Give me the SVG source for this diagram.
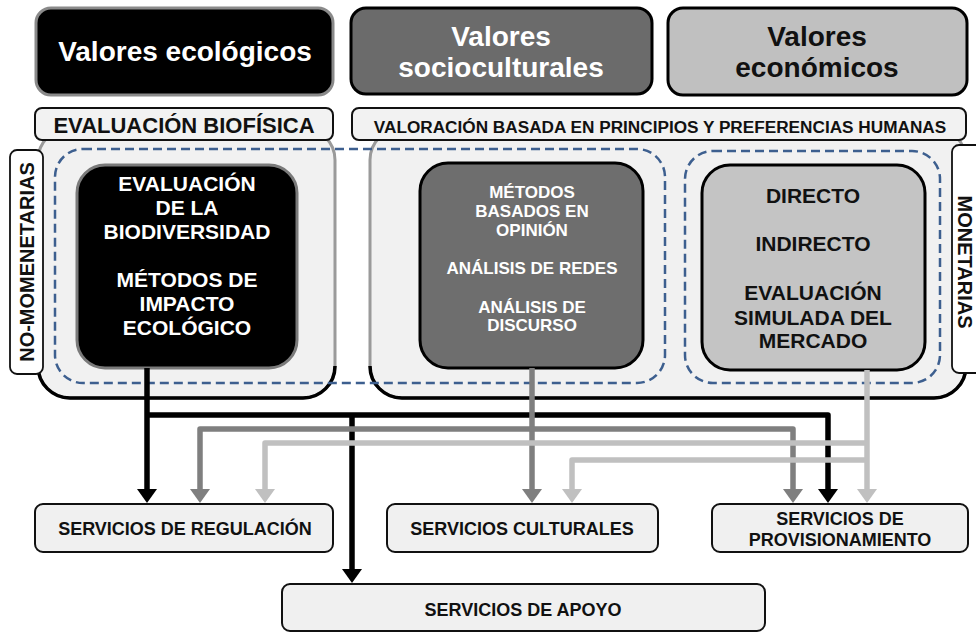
<svg xmlns="http://www.w3.org/2000/svg" width="976" height="633" viewBox="0 0 976 633">
<defs>
<style>
text{font-family:"Liberation Sans",Arial,sans-serif;font-weight:bold;text-anchor:middle}
.top{font-size:28px}
.hdr{fill:#f2f2f2;stroke:#111;stroke-width:2}
.cont{fill:#f1f1f1;stroke:#9a9a9a;stroke-width:3}
.contb{fill:none;stroke:#000;stroke-width:3.5}
.dash{fill:none;stroke:#3d5f8f;stroke-width:2.5;stroke-dasharray:9 5}
.side{fill:#fff;stroke:#111;stroke-width:1.8}
.svc{fill:#f0f0f0;stroke:#111;stroke-width:2}
.st{font-size:18px;fill:#111}
.c{fill:none;stroke-width:5.5;stroke-linejoin:round}
.k{stroke:#000;marker-end:url(#ak)}
.g{stroke:#7f7f7f;marker-end:url(#ag)}
.l{stroke:#c0c0c0;marker-end:url(#al)}
</style>
<marker id="ak" viewBox="0 -10 14 20" refX="0" refY="0" markerWidth="14" markerHeight="20" markerUnits="userSpaceOnUse" orient="auto"><path d="M0,-10 L14,0 L0,10 z" fill="#000"/></marker>
<marker id="ag" viewBox="0 -10 14 20" refX="0" refY="0" markerWidth="14" markerHeight="20" markerUnits="userSpaceOnUse" orient="auto"><path d="M0,-10 L14,0 L0,10 z" fill="#7f7f7f"/></marker>
<marker id="al" viewBox="0 -10 14 20" refX="0" refY="0" markerWidth="14" markerHeight="20" markerUnits="userSpaceOnUse" orient="auto"><path d="M0,-10 L14,0 L0,10 z" fill="#c0c0c0"/></marker>
</defs>
<rect width="976" height="633" fill="#fff"/>

<g id="containers">
<rect class="cont" x="38" y="128" width="297" height="270" rx="32"/>
<path class="contb" d="M38,366 A32,32 0 0 0 70,398 H303 A32,32 0 0 0 335,366"/>
<rect class="cont" x="370" y="128" width="596" height="270" rx="32"/>
<path class="contb" d="M370,366 A32,32 0 0 0 402,398 H934 A32,32 0 0 0 966,366"/>
<rect class="dash" x="55" y="149" width="610" height="234" rx="28"/>
<rect class="dash" x="685" y="151" width="255" height="232" rx="28"/>
</g>

<g id="biofisica">
<rect class="hdr" x="35" y="108" width="298" height="32" rx="7"/>
<text x="184" y="133" font-size="22" fill="#111">EVALUACIÓN BIOFÍSICA</text>
</g>
<g id="valoracion">
<rect class="hdr" x="352" y="108" width="614" height="32" rx="7"/>
<text x="660" y="133" font-size="17.2" fill="#111">VALORACIÓN BASADA EN PRINCIPIOS Y PREFERENCIAS HUMANAS</text>
</g>

<g id="no-monetarias">
<rect class="side" x="10" y="150" width="33" height="224" rx="7"/>
<text transform="translate(27,262) rotate(-90)" y="7" font-size="20" fill="#111">NO-MOMENETARIAS</text>
</g>
<g id="monetarias">
<rect class="side" x="952" y="145" width="40" height="228" rx="7"/>
<text transform="translate(965,262) rotate(90)" y="7" font-size="20" fill="#111">MONETARIAS</text>
</g>

<g id="valores-ecologicos">
<rect x="36" y="8" width="297" height="87" rx="15" fill="#000" stroke="#8a8a8a" stroke-width="3"/>
<text class="top" x="185" y="61" fill="#fff">Valores ecológicos</text>
</g>
<g id="valores-socioculturales">
<rect x="351" y="8" width="301" height="86" rx="15" fill="#6b6b6b" stroke="#000" stroke-width="3"/>
<text class="top" x="501" y="46" fill="#fff">Valores</text>
<text class="top" x="501" y="77" fill="#fff">socioculturales</text>
</g>
<g id="valores-economicos">
<rect x="668" y="8" width="299" height="87" rx="15" fill="#c0c0c0" stroke="#000" stroke-width="3"/>
<text class="top" x="817" y="46" fill="#111">Valores</text>
<text class="top" x="817" y="77" fill="#111">económicos</text>
</g>

<g id="metodos-biofisicos">
<rect x="77" y="165" width="220" height="203" rx="28" fill="#000" stroke="#7a7a7a" stroke-width="3"/>
<g font-size="21" fill="#fff">
<text x="187" y="191">EVALUACIÓN</text>
<text x="187" y="215">DE LA</text>
<text x="187" y="239">BIODIVERSIDAD</text>
<text x="187" y="287">MÉTODOS DE</text>
<text x="187" y="311">IMPACTO</text>
<text x="187" y="335">ECOLÓGICO</text>
</g>
</g>

<g id="metodos-socioculturales">
<rect x="420" y="163" width="223" height="205" rx="28" fill="#6e6e6e" stroke="#000" stroke-width="3"/>
<g font-size="17" fill="#fff">
<text x="532" y="198">MÉTODOS</text>
<text x="532" y="217">BASADOS EN</text>
<text x="532" y="236">OPINIÓN</text>
<text x="532" y="274">ANÁLISIS DE REDES</text>
<text x="532" y="313">ANÁLISIS DE</text>
<text x="532" y="331">DISCURSO</text>
</g>
</g>

<g id="metodos-economicos">
<rect x="702" y="165" width="223" height="205" rx="28" fill="#c4c4c4" stroke="#000" stroke-width="3"/>
<g font-size="21" fill="#111">
<text x="813" y="203">DIRECTO</text>
<text x="813" y="251">INDIRECTO</text>
<text x="813" y="300">EVALUACIÓN</text>
<text x="813" y="325">SIMULADA DEL</text>
<text x="813" y="348">MERCADO</text>
</g>
</g>

<g id="connectors">
<path class="c k" d="M147,368 V489"/>
<path class="c k" d="M147,415 H828 V489"/>
<path class="c k" d="M352,415 V569"/>
<path class="c g" d="M532,368 V489"/>
<path class="c g" d="M532,429 H200 V489"/>
<path class="c g" d="M532,429 H793 V489"/>
<path class="c l" d="M867,370 V489"/>
<path class="c l" d="M867,443 H265 V489"/>
<path class="c l" d="M867,460 H572 V489"/>
</g>

<g id="servicios-regulacion">
<rect class="svc" x="35" y="504" width="298" height="48" rx="8"/>
<text class="st" x="185" y="535">SERVICIOS DE REGULACIÓN</text>
</g>
<g id="servicios-culturales">
<rect class="svc" x="387" y="504" width="271" height="48" rx="8"/>
<text class="st" x="522" y="535">SERVICIOS  CULTURALES</text>
</g>
<g id="servicios-provisionamiento">
<rect class="svc" x="712" y="504" width="256" height="48" rx="8"/>
<text class="st" x="840" y="525">SERVICIOS  DE</text>
<text class="st" x="840" y="546">PROVISIONAMIENTO</text>
</g>
<g id="servicios-apoyo">
<rect class="svc" x="282" y="584" width="483" height="47" rx="8"/>
<text class="st" x="523" y="616">SERVICIOS  DE APOYO</text>
</g>
</svg>
